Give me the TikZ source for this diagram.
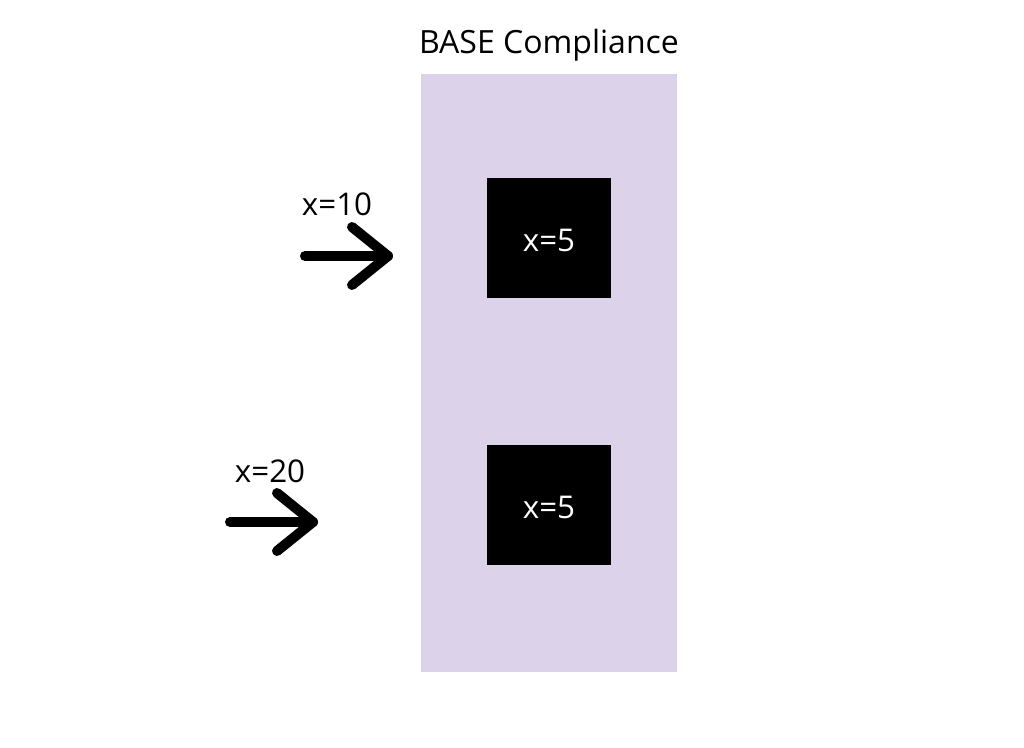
\documentclass[tikz,border=0pt]{standalone}
\usepackage{fontspec}
\setmainfont{Open Sans}
\definecolor{lav}{HTML}{DCD3EB}
\begin{document}
\begin{tikzpicture}[x=0.75pt,y=-0.75pt,
  blackbox/.style={fill=black,minimum width=93pt,minimum height=90pt,inner sep=0pt},
  lbl/.style={font=\fontsize{23.5}{27}\selectfont,inner sep=0pt,anchor=base},
  fat/.style={line width=7.5pt,line cap=round,line join=round}]
\useasboundingbox (0,0) rectangle (1024,747);
\fill[lav] (421,74) rectangle (677,672);
\node[lbl,font=\fontsize{24}{27}\selectfont] (title) at (549,53) {BASE Compliance};
\node[blackbox] (b1) at (549,238) {};
\node[blackbox] (b2) at (549,505) {};
\node[lbl,text=white] (t1) at (549,251) {x=5};
\node[lbl,text=white] (t2) at (549,518) {x=5};
\node[lbl] (l1) at (337,215) {x=10};
\node[lbl] (l2) at (270,482) {x=20};
\coordinate (a1s) at (305,256);
\coordinate (a1e) at (388,256);
\coordinate (a2s) at (230,522);
\coordinate (a2e) at (313,522);
\draw[fat] (a1s) -- (a1e);
\draw[fat] ([shift={(-36,-29)}]a1e) -- (a1e) -- ([shift={(-36,29)}]a1e);
\draw[fat] (a2s) -- (a2e);
\draw[fat] ([shift={(-36,-29)}]a2e) -- (a2e) -- ([shift={(-36,29)}]a2e);
\end{tikzpicture}
\end{document}
